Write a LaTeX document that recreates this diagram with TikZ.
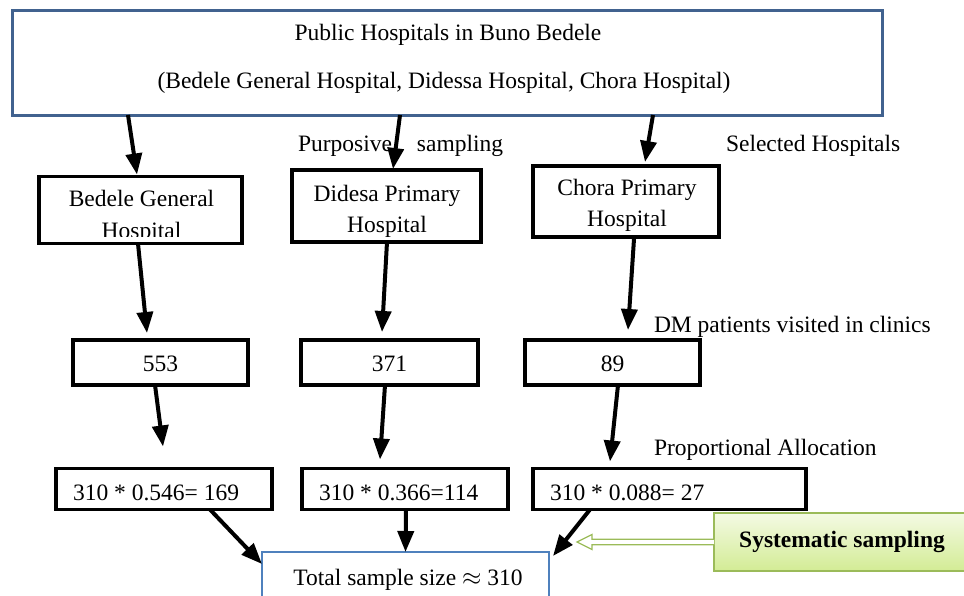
\documentclass[tikz,border=0pt]{standalone}
\usepackage{fontspec}
\setmainfont{Liberation Serif}
\usetikzlibrary{arrows.meta,calc}
\definecolor{topblue}{HTML}{41628F}
\definecolor{totblue}{HTML}{4F81BD}
\definecolor{sysgreen}{HTML}{9BBB59}
\definecolor{sysfillA}{HTML}{F4FAE4}
\definecolor{sysfillB}{HTML}{D3EC95}
\begin{document}
\begin{tikzpicture}[x=1pt,y=-1pt,
  every node/.style={font=\fontsize{23.5}{28}\selectfont},
  bx/.style={draw=black,line width=3.8pt,fill=white,inner sep=0pt,outer sep=0pt,rectangle},
  tx/.style={inner sep=0pt,outer sep=0pt,anchor=base},
  txl/.style={inner sep=0pt,outer sep=0pt,anchor=base west},
  arr/.style={line width=4pt,-{Triangle[width=16pt,length=21pt]}},
]
\useasboundingbox (0,0) rectangle (964,595);
\fill[white] (0,0) rectangle (964,595);

% top box
\node[draw=topblue,line width=3pt,fill=white,inner sep=0pt,outer sep=0pt,
      minimum width=870pt,minimum height=105pt] (top) at (447,62.5) {};
\node[tx] (top1) at (448,40) {Public Hospitals in Buno Bedele};
\node[tx] (top2) at (444,88) {(Bedele General Hospital, Didessa Hospital, Chora Hospital)};

% second row
\node[bx,minimum width=203pt,minimum height=67pt] (A) at (140.5,210) {};
\begin{scope}
  \clip ([xshift=3pt,yshift=-3pt]A.north west) rectangle ([xshift=-3pt,yshift=7pt]A.south east);
  \node[tx] (tA1) at (141.5,206) {Bedele General};
  \node[tx] (tA2) at (141.5,238) {Hospital};
\end{scope}
\node[bx,minimum width=189pt,minimum height=72pt] (B) at (386.5,206) {};
\node[tx] (tB1) at (387,201) {Didesa Primary};
\node[tx] (tB2) at (387,232) {Hospital};
\node[bx,minimum width=186pt,minimum height=71pt] (C) at (626,201.5) {};
\node[tx] (tC1) at (627,195) {Chora Primary};
\node[tx] (tC2) at (627,226) {Hospital};

% labels row 1
\node[txl] (lp) at (298,151.5) {Purposive\hspace{25pt}sampling};
\node[txl] (ls) at (726,151.5) {Selected Hospitals};

% third row
\node[bx,minimum width=175pt,minimum height=45pt] (N1) at (160.5,362.5) {};
\node[tx] (tN1) at (160.5,371) {553};
\node[bx,minimum width=177pt,minimum height=45pt] (N2) at (389.5,362.5) {};
\node[tx] (tN2) at (389.5,371) {371};
\node[bx,minimum width=175pt,minimum height=45pt] (N3) at (612.5,362.5) {};
\node[tx] (tN3) at (612.5,371) {89};
\node[txl] (ldm) at (654,332) {DM patients visited in clinics};

% fourth row
\node[bx,minimum width=216pt,minimum height=41pt] (P1) at (164,489) {};
\node[txl] (tP1) at ([xshift=17pt,yshift=-11pt]P1.west) {310 * 0.546= 169};
\node[bx,minimum width=206pt,minimum height=41pt] (P2) at (405,489) {};
\node[txl] (tP2) at ([xshift=17pt,yshift=-11pt]P2.west) {310 * 0.366=114};
\node[bx,minimum width=273pt,minimum height=41pt] (P3) at (669.5,489) {};
\node[txl] (tP3) at ([xshift=17pt,yshift=-11pt]P3.west) {310 * 0.088= 27};
\node[txl] (lpa) at (654,455) {Proportional Allocation};

% total
\node[draw=totblue,line width=1.5pt,fill=white,inner sep=0pt,outer sep=0pt,
      minimum width=287pt,minimum height=54pt] (T) at (405.5,579) {};
\node[tx] (tT) at (408,585) {Total sample size $\approx$ 310};

% systematic sampling
\node[draw=sysgreen,line width=1.3pt,top color=sysfillA,bottom color=sysfillB,
      inner sep=0pt,outer sep=0pt,minimum width=262pt,minimum height=58pt] (S) at (845,542) {};
\node[tx,font=\fontsize{23.5}{28}\selectfont\bfseries] (tS) at (842,547) {Systematic sampling};
\draw[sysgreen,line width=1.3pt,fill=white]
  ($(S.west)+(0,-2.8)$) -- ($(S.west)+(-122,-2.8)$) -- ($(S.west)+(-122,-7.5)$)
  -- ($(S.west)+(-137,0)$) -- ($(S.west)+(-122,7.5)$) -- ($(S.west)+(-122,2.8)$)
  -- ($(S.west)+(0,2.8)$);

% arrows row 1
\draw[arr] ([xshift=-319pt]top.south) -- ([xshift=-3.5pt,yshift=2pt]A.north);
\draw[arr] ([xshift=-47pt]top.south) -- ([xshift=6.5pt,yshift=1pt]B.north);
\draw[arr] ([xshift=206pt]top.south) -- ([xshift=19pt,yshift=4pt]C.north);
% arrows row 2
\draw[arr] ([xshift=-2.5pt]A.south) -- ([xshift=-13.5pt,yshift=7pt]N1.north);
\draw[arr] ([xshift=0.5pt]B.south) -- ([xshift=-7.5pt,yshift=8pt]N2.north);
\draw[arr] ([xshift=8pt,yshift=-2pt]C.south) -- ([xshift=15.5pt,yshift=10pt]N3.north);
% arrows row 3
\draw[arr] ([xshift=-5.5pt]N1.south) -- ([xshift=-1pt,yshift=22pt]P1.north);
\draw[arr] ([xshift=-4.5pt]N2.south) -- ([xshift=-25pt,yshift=9pt]P2.north);
\draw[arr] ([xshift=5.5pt]N3.south) -- ([xshift=-59.5pt,yshift=7pt]P3.north);
% arrows row 4
\draw[arr] ([xshift=46pt]P1.south) -- ([yshift=-12pt]T.north west);
\draw[arr] ([xshift=1pt]P2.south) -- (T.north);
\draw[arr] ([xshift=-79.5pt]P3.south) -- ([xshift=4pt,yshift=-4pt]T.north east);
\end{tikzpicture}
\end{document}
